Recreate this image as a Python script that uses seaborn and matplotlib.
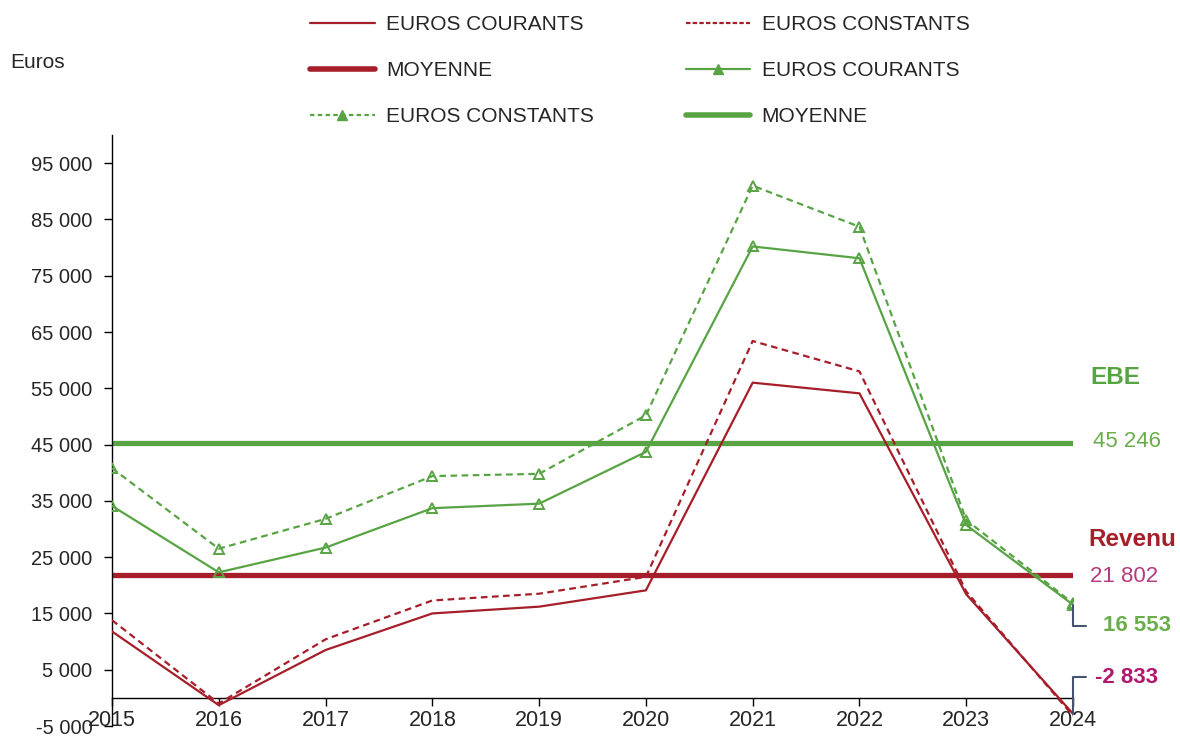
import matplotlib
matplotlib.use('Agg')
import matplotlib.pyplot as plt
import seaborn as sns
import pandas as pd
from matplotlib.lines import Line2D
from matplotlib.ticker import FuncFormatter, MultipleLocator

# Data (euros)
years = [2015, 2016, 2017, 2018, 2019, 2020, 2021, 2022, 2023, 2024]
revenu_courants = [11800, -1300, 8500, 15000, 16200, 19100, 56000, 54100, 18400, -2833]
revenu_constants = [13800, -1000, 10400, 17300, 18500, 21500, 63400, 58000, 18900, -3200]
ebe_courants = [34100, 22300, 26700, 33700, 34500, 43700, 80200, 78100, 30700, 16553]
ebe_constants = [40800, 26500, 31800, 39400, 39800, 50200, 91000, 83700, 31600, 16800]
revenu_moyenne = 21802
ebe_moyenne = 45246

RED = '#a61e2a'
GREEN = '#58a444'
LIGHT_GREEN = '#6aae4c'
PINK = '#b7397f'
MAGENTA = '#b0186e'
SLATE = '#44546a'
TEXT = '#262626'


def fmt_thousands(v, pos=None):
    return f"{v:,.0f}".replace(",", " ")


def apply_global_styling():
    sns.set_theme(style='white')
    plt.rcParams['font.family'] = ['Liberation Sans', 'DejaVu Sans']
    plt.rcParams.update({
        'axes.edgecolor': 'black',
        'axes.linewidth': 1.0,
        'xtick.color': 'black',
        'ytick.color': 'black',
        'xtick.labelcolor': TEXT,
        'ytick.labelcolor': TEXT,
        'text.color': TEXT,
    })


def plot_revenu_ebe():
    apply_global_styling()
    fig = plt.figure(figsize=(11.8, 7.37), dpi=100)
    ax = fig.add_axes([112 / 1180, 11 / 737, 961 / 1180, 591 / 737])

    df = pd.DataFrame({
        'annee': years,
        'rev_cour': revenu_courants,
        'rev_const': revenu_constants,
        'ebe_cour': ebe_courants,
        'ebe_const': ebe_constants,
    })

    # Mean lines
    ax.hlines(ebe_moyenne, years[0], years[-1], color=GREEN, lw=3.8, zorder=2)
    ax.hlines(revenu_moyenne, years[0], years[-1], color=RED, lw=3.8, zorder=2)

    # Revenu series
    sns.lineplot(data=df, x='annee', y='rev_cour', ax=ax, color=RED, lw=1.6, zorder=3)
    sns.lineplot(data=df, x='annee', y='rev_const', ax=ax, color=RED, lw=1.6,
                 linestyle=(0, (3, 2)), zorder=3)
    # EBE series
    sns.lineplot(data=df, x='annee', y='ebe_cour', ax=ax, color=GREEN, lw=1.6,
                 marker='^', markersize=7, markerfacecolor='none',
                 markeredgecolor=GREEN, markeredgewidth=1.4, zorder=4)
    sns.lineplot(data=df, x='annee', y='ebe_const', ax=ax, color=GREEN, lw=1.6,
                 linestyle=(0, (3, 2)), marker='^', markersize=7,
                 markerfacecolor='none', markeredgecolor=GREEN,
                 markeredgewidth=1.4, zorder=4)

    # Axes
    ax.set_xlim(years[0], years[-1])
    ax.set_ylim(-5000, 100000)
    ax.yaxis.set_major_locator(MultipleLocator(10000, offset=5000))
    ax.yaxis.set_major_formatter(FuncFormatter(fmt_thousands))
    ax.set_xticks(years)
    ax.set_xticklabels([str(y) for y in years])
    ax.set_xlabel('')
    ax.set_ylabel('')
    ax.spines['top'].set_visible(False)
    ax.spines['right'].set_visible(False)
    ax.spines['bottom'].set_position(('data', 0))
    ax.tick_params(axis='y', which='major', direction='out', length=6, width=1,
                   pad=8, labelsize=14.5, left=True)
    ax.tick_params(axis='x', which='major', direction='out', length=6, width=1,
                   pad=3, labelsize=15.5, bottom=True)
    ax.grid(False)

    fig.text(10 / 1180, 1 - 62 / 737, 'Euros', fontsize=15, va='center', ha='left')

    # Right-hand annotations
    xr = years[-1]
    ax.text(xr + 0.16, 57000, 'EBE', color=GREEN, fontsize=17.5, fontweight='bold', va='center')
    ax.text(xr + 0.19, ebe_moyenne + 300, fmt_thousands(ebe_moyenne), color=LIGHT_GREEN,
            fontsize=16, va='center')
    ax.text(xr + 0.14, 28100, 'Revenu', color=RED, fontsize=17.5, fontweight='bold', va='center')
    ax.text(xr + 0.16, revenu_moyenne - 200, fmt_thousands(revenu_moyenne), color=PINK,
            fontsize=16, va='center')

    ebe_label_y = ebe_courants[-1] - 3700
    rev_label_y = revenu_courants[-1] + 6500
    ax.plot([xr, xr, xr + 0.12], [ebe_courants[-1], ebe_label_y, ebe_label_y],
            color=SLATE, lw=1.5, clip_on=False, zorder=5)
    ax.plot([xr, xr, xr + 0.12], [revenu_courants[-1], rev_label_y, rev_label_y],
            color=SLATE, lw=1.5, clip_on=False, zorder=5)
    ax.text(xr + 0.28, ebe_label_y, fmt_thousands(ebe_courants[-1]), color=LIGHT_GREEN,
            fontsize=16, fontweight='bold', va='center')
    ax.text(xr + 0.21, rev_label_y, fmt_thousands(revenu_courants[-1]), color=MAGENTA,
            fontsize=16, fontweight='bold', va='center')

    # Legend (column-major order, 2 columns)
    tri = dict(marker='^', markersize=7, markerfacecolor=GREEN, markeredgecolor=GREEN)
    handles = [
        Line2D([], [], color=RED, lw=1.6),
        Line2D([], [], color=RED, lw=4),
        Line2D([], [], color=GREEN, lw=1.6, linestyle=(0, (2, 1.5)), **tri),
        Line2D([], [], color=RED, lw=1.6, linestyle=(0, (2, 1))),
        Line2D([], [], color=GREEN, lw=1.6, **tri),
        Line2D([], [], color=GREEN, lw=4),
    ]
    labels = ['EUROS COURANTS', 'MOYENNE', 'EUROS CONSTANTS',
              'EUROS CONSTANTS', 'EUROS COURANTS', 'MOYENNE']
    fig.legend(handles, labels, ncol=2, loc='upper left',
               bbox_to_anchor=(310 / 1180, 1 - 15 / 737), frameon=False,
               fontsize=15, handlelength=3.1, handletextpad=0.55,
               columnspacing=4.4, labelspacing=1.3, borderpad=0,
               borderaxespad=0, markerfirst=True)

    fig.savefig('out.png', dpi=100)
    plt.close(fig)


if __name__ == "__main__":
    plot_revenu_ebe()
